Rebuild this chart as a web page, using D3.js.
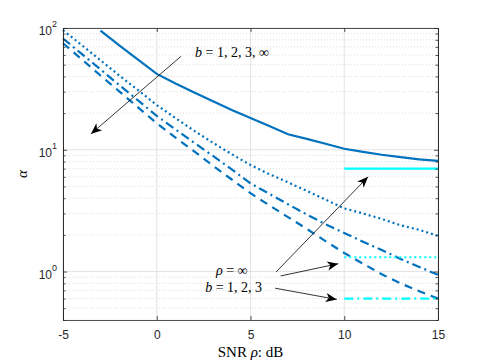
<!DOCTYPE html>
<html lang="en">
<head>
    <meta charset="UTF-8">
    <title>alpha vs SNR</title>
    <script src="https://cdnjs.cloudflare.com/ajax/libs/d3/7.8.5/d3.min.js"></script>
    <style>
        body{margin:0; background:#fff;}
        svg{display:block;}
        .tick text{font-family:"Liberation Sans", Arial, sans-serif; font-size:12px; fill:#262626;}
        .math{font-family:"Liberation Serif", "DejaVu Serif", serif; fill:#000;}
    </style>
</head>
<body>
    <svg id="chart" width="485" height="363"></svg>
    <script>
        // data (SNR in dB, alpha on log axis)
        var snr = [-5,-4,-3,-2,-1,0,1,2,3,4,5,6,7,8,9,10,11,12,13,14,15];
        var snrSolid = [-3,-2,-1,0,1,2,3,4,5,6,7,8,9,10,11,12,13,14,15];
        var alphaSolid = [95,72,55,42,35,29.5,25,21.2,18.2,15.7,13.4,12.3,11.2,10.2,9.6,9.1,8.7,8.35,8.1];
        var alphaDotted = [96,72.4,54.3,40.7,30.9,23.3,18.2,14.3,11.4,9.2,7.5,6.3,5.4,4.6,3.9,3.3,3.0,2.7,2.4,2.2,1.96];
        var alphaDashDot = [82,61.2,45.7,34,25.4,19,14.7,11.4,8.9,6.9,5.3,4.35,3.57,2.94,2.45,2.07,1.76,1.5,1.27,1.09,0.94];
        var alphaDashed = [75,55.3,40.7,30.2,22.3,16.5,12.6,9.7,7.4,5.7,4.4,3.5,2.8,2.24,1.78,1.42,1.16,0.95,0.80,0.69,0.60];
        var snrLimit = [10,15];
        var limitValues = [7.0, 1.31, 0.6];
        var xTicks = [-5,0,5,10,15];
        var yTicks = [1,10,100];
        var yTickExp = ["0","1","2"];

        var W = 485, H = 363;
        var margin = {left:63, right:47, top:28, bottom:43};
        var svg = d3.select("#chart");

        var x = d3.scaleLinear().domain([-5,15]).range([margin.left, W-margin.right]);
        var y = d3.scaleLog().domain([0.4,100]).range([H-margin.bottom, margin.top]);

        var minorTicks = [];
        [0.1,1,10].forEach(function(d){
            for(var k=2;k<=9;k++){
                var v = d*k;
                if(v>=0.4 && v<=100) minorTicks.push(v);
            }
        });

        var grid = svg.append("g");
        // minor grid (dotted)
        grid.selectAll(".minor").data(minorTicks).enter().append("line")
            .attr("x1",x(-5)).attr("x2",x(15))
            .attr("y1",function(d){return y(d);}).attr("y2",function(d){return y(d);})
            .attr("stroke","#cfcfcf").attr("stroke-width",0.7).attr("stroke-dasharray","1,2");
        // major grid
        grid.selectAll(".majy").data(yTicks).enter().append("line")
            .attr("x1",x(-5)).attr("x2",x(15))
            .attr("y1",function(d){return y(d);}).attr("y2",function(d){return y(d);})
            .attr("stroke","#e3e3e3").attr("stroke-width",1);
        grid.selectAll(".majx").data(xTicks).enter().append("line")
            .attr("x1",function(d){return x(d);}).attr("x2",function(d){return x(d);})
            .attr("y1",y(0.4)).attr("y2",y(100))
            .attr("stroke","#e3e3e3").attr("stroke-width",1);

        // curves
        var line = d3.line()
            .x(function(d){return x(d[0]);})
            .y(function(d){return y(d[1]);});
        var blue = "#0072BD", cyan = "#00FFFF";

        function pairs(xs, ys){ return xs.map(function(v,i){return [v, ys[i]];}); }

        var series = [
            {data: pairs(snrSolid, alphaSolid), dash: null},
            {data: pairs(snr, alphaDotted), dash: "2,3"},
            {data: pairs(snr, alphaDashDot), dash: "9,4,2,4"},
            {data: pairs(snr, alphaDashed), dash: "8,6"}
        ];
        svg.selectAll(".curve").data(series).enter().append("path")
            .attr("d",function(d){return line(d.data);})
            .attr("fill","none").attr("stroke",blue).attr("stroke-width",2.2)
            .attr("stroke-dasharray",function(d){return d.dash;});

        var limitDash = [null, "2,3", "9,4,2,4"];
        svg.selectAll(".limit").data(limitValues).enter().append("path")
            .attr("d",function(d){return line(snrLimit.map(function(s){return [s,d];}));})
            .attr("fill","none").attr("stroke",cyan).attr("stroke-width",2.2)
            .attr("stroke-dasharray",function(d,i){return limitDash[i];});

        // axes
        var axisColor = "#262626";
        var xAxis = svg.append("g")
            .attr("transform","translate(0,"+y(0.4)+")")
            .call(d3.axisBottom(x).tickValues(xTicks).tickSizeInner(-4).tickSizeOuter(0).tickPadding(10)
                .tickFormat(function(d){return String(d);}));
        var xTop = svg.append("g")
            .attr("transform","translate(0,"+y(100)+")")
            .call(d3.axisTop(x).tickValues(xTicks).tickSizeInner(-4).tickSizeOuter(0).tickFormat(""));
        var yAxis = svg.append("g")
            .attr("transform","translate("+x(-5)+",0)")
            .call(d3.axisLeft(y).tickValues(yTicks).tickSizeInner(-4).tickSizeOuter(0).tickFormat(""));
        var yRight = svg.append("g")
            .attr("transform","translate("+x(15)+",0)")
            .call(d3.axisRight(y).tickValues(yTicks).tickSizeInner(-4).tickSizeOuter(0).tickFormat(""));
        var yMinL = svg.append("g")
            .attr("transform","translate("+x(-5)+",0)")
            .call(d3.axisLeft(y).tickValues(minorTicks).tickSizeInner(-2.5).tickSizeOuter(0).tickFormat(""));
        var yMinR = svg.append("g")
            .attr("transform","translate("+x(15)+",0)")
            .call(d3.axisRight(y).tickValues(minorTicks).tickSizeInner(-2.5).tickSizeOuter(0).tickFormat(""));

        [xAxis,xTop,yAxis,yRight,yMinL,yMinR].forEach(function(g){
            g.selectAll("path,line").attr("stroke",axisColor).attr("stroke-width",0.8);
        });

        // y tick labels 10^k
        var ylab = yAxis.selectAll(".tick text")
            .attr("x",-6).attr("dy","0.55em").attr("text-anchor","end").text("10");
        ylab.append("tspan").attr("font-size","9px").attr("dy","-0.9em").text(function(d,i){return yTickExp[i];});

        // axis labels
        svg.append("text").attr("class","math")
            .attr("transform","translate(27,"+((y(0.4)+y(100))/2)+") rotate(-90)")
            .attr("text-anchor","middle").attr("font-size","15px").attr("font-style","italic")
            .text("\u03B1");
        var xl = svg.append("text").attr("class","math")
            .attr("x",(x(-5)+x(15))/2).attr("y",357)
            .attr("text-anchor","middle").attr("font-size","15px");
        xl.append("tspan").text("SNR ");
        xl.append("tspan").attr("font-style","italic").text("\u03C1");
        xl.append("tspan").text(":  dB");

        // annotations
        var defs = svg.append("defs");
        defs.append("marker").attr("id","head")
            .attr("viewBox","-12 -6 14 12").attr("markerWidth",14).attr("markerHeight",12)
            .attr("refX",0).attr("refY",0).attr("orient","auto").attr("markerUnits","userSpaceOnUse")
            .append("path").attr("d","M0,0 L-11,-4.5 L-8,0 L-11,4.5 Z").attr("fill","#000");

        var arrowFrom = [[1.29,58.5],[6.36,0.99],[6.61,0.92],[6.31,0.73]];
        var arrowTo = [[-3.51,13.5],[11.27,6.0],[9.68,1.16],[9.6,0.59]];
        svg.selectAll(".arrow").data(arrowFrom).enter().append("line")
            .attr("x1",function(d){return x(d[0]);}).attr("y1",function(d){return y(d[1]);})
            .attr("x2",function(d,i){return x(arrowTo[i][0]);}).attr("y2",function(d,i){return y(arrowTo[i][1]);})
            .attr("stroke","#000").attr("stroke-width",0.8).attr("marker-end","url(#head)");

        var t1 = svg.append("text").attr("class","math")
            .attr("x",x(2.04)).attr("y",y(58)).attr("font-size","14px");
        t1.append("tspan").attr("font-style","italic").text("b");
        t1.append("tspan").text(" = 1, 2, 3, \u221E");

        var t2 = svg.append("text").attr("class","math")
            .attr("x",x(4.0)).attr("y",y(0.94)).attr("text-anchor","middle").attr("font-size","14px");
        t2.append("tspan").attr("font-style","italic").text("\u03C1");
        t2.append("tspan").text(" = \u221E");
        var t3 = svg.append("text").attr("class","math")
            .attr("x",x(4.1)).attr("y",y(0.685)).attr("text-anchor","middle").attr("font-size","14px");
        t3.append("tspan").attr("font-style","italic").text("b");
        t3.append("tspan").text(" = 1, 2, 3");
    </script>
</body>
</html>
